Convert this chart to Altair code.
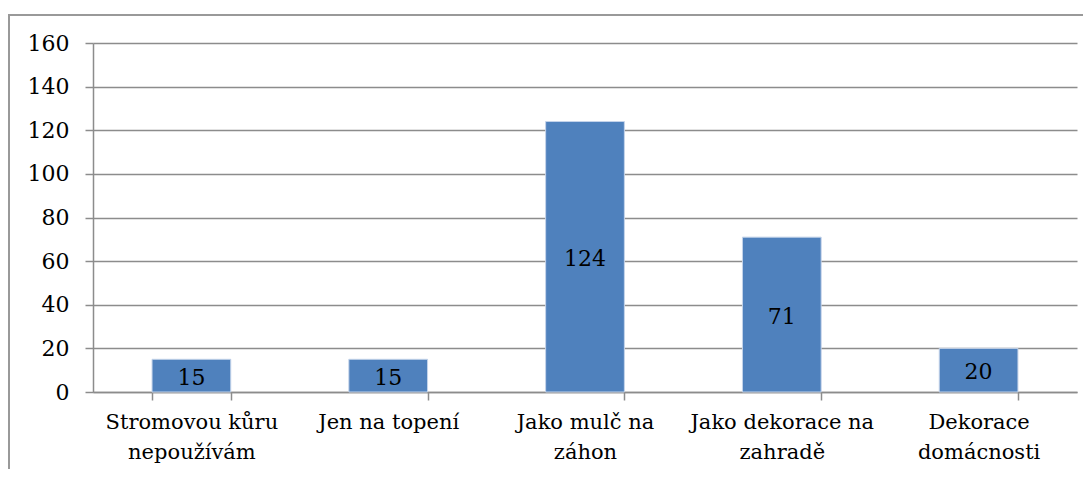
import altair as alt
import pandas as pd

categories = ["Stromovou kůru\nnepoužívám", "Jen na topení", "Jako mulč na\nzáhon",
              "Jako dekorace na\nzahradě", "Dekorace\ndomácnosti"]
values = [15, 15, 124, 71, 20]
y_ticks = [0, 20, 40, 60, 80, 100, 120, 140, 160]

df = pd.DataFrame({"cat": categories, "v": values})
FONT = "DejaVu Serif"
GRAY = "#8c8c8c"

x = alt.X("cat:N", sort=categories, title=None,
          scale=alt.Scale(paddingInner=0.6, paddingOuter=0.3),
          axis=alt.Axis(labelAngle=0, labelExpr="split(datum.label, '\\n')",
                        tickBand="extent", tickSize=8, tickColor=GRAY, domainColor=GRAY,
                        domainWidth=1.5, tickWidth=1.5, labelLimit=400,
                        labelFont=FONT, labelFontSize=21, labelColor="#000",
                        labelPadding=11, labelLineHeight=30, labelBaseline="top"))
y = alt.Y("v:Q", title=None, scale=alt.Scale(domain=[0, 160], nice=False),
          axis=alt.Axis(values=y_ticks, grid=True, gridColor=GRAY, gridWidth=1.5,
                        tickSize=8, tickColor=GRAY, tickWidth=1.5, domainColor=GRAY,
                        domainWidth=1.5, labelFont=FONT, labelFontSize=22,
                        labelColor="#000", labelPadding=16))

base = alt.Chart(df)
bars = base.mark_bar(color="#4F81BD", stroke="#C5D4EA", strokeWidth=1).encode(x=x, y=y)
labels = base.transform_calculate(mid="datum.v / 2").mark_text(
    font=FONT, fontSize=22, color="#000", baseline="middle", dy=2
).encode(x=alt.X("cat:N", sort=categories), y=alt.Y("mid:Q"), text="v:Q")

frame = alt.Chart(pd.DataFrame({"a": [0]})).mark_rect(
    fill=None, stroke="#999999", strokeWidth=2
).encode(x=alt.value(-84), x2=alt.value(1100), y=alt.value(-28), y2=alt.value(520))

chart = alt.layer(frame, bars, labels).properties(
    width=984, height=349,
    autosize=alt.AutoSizeParams(type="none"),
    padding={"left": 85, "top": 35, "right": 6, "bottom": 77},
).configure_view(stroke=None)

chart.save("out.html", embed_options={"renderer": "svg", "actions": False})
